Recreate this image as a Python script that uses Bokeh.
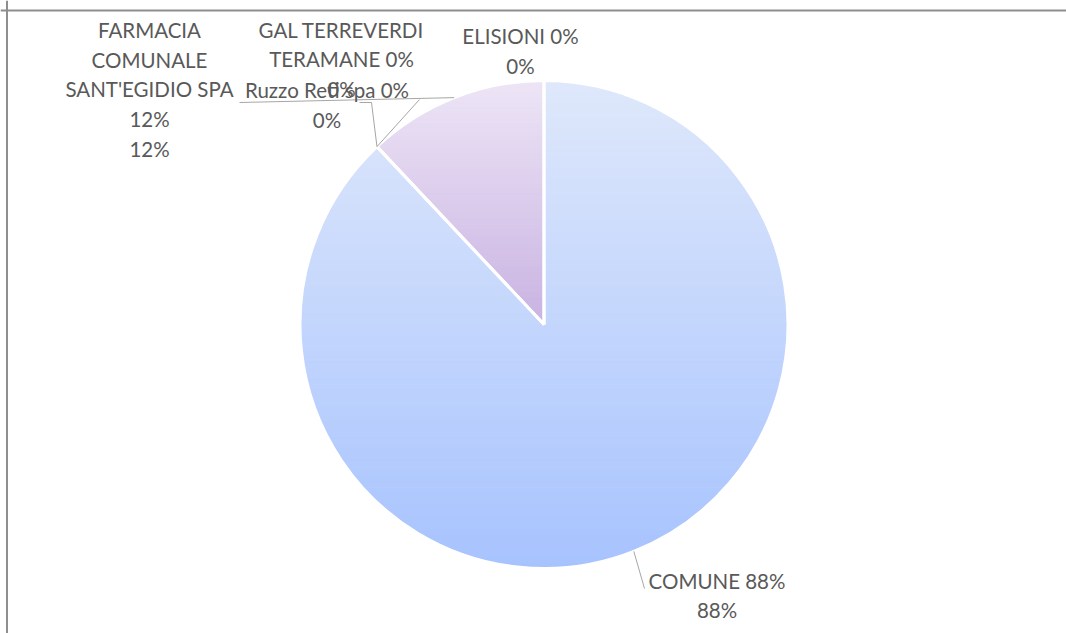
import math
from bokeh.plotting import figure
from bokeh.models import Range1d, Span
from bokeh.core.properties import value
from bokeh.embed import file_html
from bokeh.resources import INLINE

# ---------------- data ----------------
names = ["COMUNE", "Ruzzo Reti spa", "GAL TERREVERDI TERAMANE",
         "FARMACIA COMUNALE SANT'EGIDIO SPA", "ELISIONI"]
values = [0.88, 0.0, 0.0, 0.12, 0.0]
label_templates = [
    ["COMUNE {p}", "{p}"],
    ["Ruzzo Reti spa {p}", "{p}"],
    ["GAL TERREVERDI", "TERAMANE {p}", "{p}"],
    ["FARMACIA", "COMUNALE", "SANT'EGIDIO SPA", "{p}", "{p}"],
    ["ELISIONI {p}", "{p}"],
]
grad_top = [(223, 232, 251), (223, 232, 251), (223, 232, 251), (237, 229, 246), (237, 229, 246)]
grad_bottom = [(167, 195, 254), (167, 195, 254), (167, 195, 254), (201, 179, 226), (201, 179, 226)]

# ---------------- layout (page pixels) ----------------
W, H = 1066, 633
def px(x):
    return x
def py(y):
    return H - y

CX, CY, R = px(543.5), py(324), 244.0
label_anchor = [(716.5, 580), (326.5, 89.5), (341, 29), (149, 29.5), (520, 35.5)]
leader_ends = [[(644, 588)], [(371, 102), (359, 102)], [(419, 99)], [(239, 102)], []]
LINE_STEP = 29.7
FONT = value("Lato")
FSIZE = "20.5px"
TXT = "#595959"

p = figure(width=W, height=H, output_backend="svg", toolbar_location=None,
           x_range=Range1d(0, W), y_range=Range1d(0, H),
           x_axis_location=None, y_axis_location=None, min_border=0)
p.grid.visible = False
p.outline_line_color = None
p.background_fill_color = "white"
p.border_fill_color = "white"

total = sum(values)
fracs = [v / total for v in values]
starts, ends = [], []
acc = 0.0
for f in fracs:
    starts.append(acc * 2 * math.pi)
    acc += f
    ends.append(acc * 2 * math.pi)

def pt(theta, r=R):
    # theta measured clockwise from 12 o'clock
    return CX + r * math.sin(theta), CY + r * math.cos(theta)

def clip(poly, y0, keep_above):
    out = []
    n = len(poly)
    for i in range(n):
        a = poly[i]
        b = poly[(i + 1) % n]
        ina = a[1] >= y0 if keep_above else a[1] <= y0
        inb = b[1] >= y0 if keep_above else b[1] <= y0
        if ina:
            out.append(a)
        if ina != inb:
            t = (y0 - a[1]) / (b[1] - a[1])
            out.append((a[0] + t * (b[0] - a[0]), y0))
    return out

band_xs, band_ys, band_cols = [], [], []
NB = 90
for i, f in enumerate(fracs):
    if f <= 0:
        continue
    nseg = max(8, int(400 * f))
    poly = [(CX, CY)] + [pt(starts[i] + (ends[i] - starts[i]) * k / nseg) for k in range(nseg + 1)]
    ymin = min(q[1] for q in poly)
    ymax = max(q[1] for q in poly)
    for b in range(NB):
        y1 = ymax - (ymax - ymin) * b / NB
        y0 = ymax - (ymax - ymin) * (b + 1) / NB
        piece = clip(clip(poly, y0, True), y1, False)
        if len(piece) < 3:
            continue
        t = (b + 0.5) / NB
        c = tuple(int(round(grad_top[i][k] + t * (grad_bottom[i][k] - grad_top[i][k]))) for k in range(3))
        band_xs.append([q[0] for q in piece])
        band_ys.append([q[1] for q in piece])
        band_cols.append("#%02x%02x%02x" % c)

p.patches(band_xs, band_ys, fill_color=band_cols, line_color=band_cols, line_width=1)

# slice borders (library wedges)
nz = [i for i, f in enumerate(fracs) if f > 0]
p.wedge(x=[CX] * len(nz), y=[CY] * len(nz), radius=R,
        start_angle=[math.pi / 2 - starts[i] for i in nz],
        end_angle=[math.pi / 2 - ends[i] for i in nz],
        direction="clock", fill_alpha=0, line_color="white", line_width=3)

# leader lines
for i in range(len(values)):
    if not leader_ends[i]:
        continue
    mid = (starts[i] + ends[i]) / 2
    sx, sy = pt(mid)
    xs = [sx] + [px(e[0]) for e in leader_ends[i]]
    ys = [sy] + [py(e[1]) for e in leader_ends[i]]
    p.line(xs, ys, line_color="#a6a6a6", line_width=1)

# labels
tx, ty, tt = [], [], []
for i, tmpl in enumerate(label_templates):
    pct = "%d%%" % round(fracs[i] * 100)
    ax, ay = label_anchor[i]
    for k, line in enumerate(tmpl):
        tx.append(px(ax))
        ty.append(py(ay + k * LINE_STEP))
        tt.append(line.format(p=pct))
p.text(tx, ty, text=tt, text_font=FONT, text_font_size=FSIZE, text_color=TXT,
       text_align="center", text_baseline="alphabetic")

# chart area frame (left and top edges visible)
p.add_layout(Span(location=px(6.5), dimension="height", line_color="#8e8e8e", line_width=2))
p.add_layout(Span(location=py(10), dimension="width", line_color="#8e8e8e", line_width=2))

open("out.html", "w").write(file_html(p, INLINE))
